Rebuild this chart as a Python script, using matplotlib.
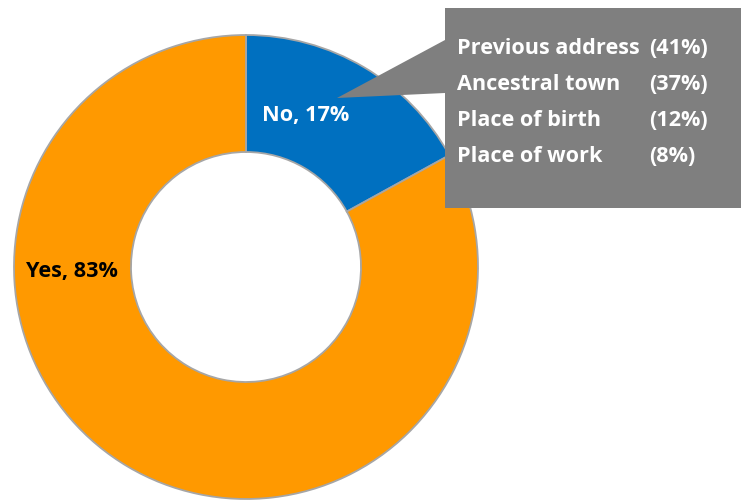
import matplotlib.pyplot as plt
from matplotlib.patches import Polygon

# Answer split for the donut
answers = ["No", "Yes"]
answer_share = [17, 83]
answer_colors = ["#0070C0", "#FF9900"]

# Breakdown shown in the callout box
reasons = ["Previous address", "Ancestral town", "Place of birth", "Place of work"]
reason_share = [41, 37, 12, 8]

plt.rcParams["font.family"] = ["Open Sans", "DejaVu Sans"]

W, H = 741, 501
fig = plt.figure(figsize=(W / 100, H / 100), dpi=100)
ax = fig.add_axes([0, 0, 1, 1])

cx, cy = 246, 234
outer = 232
ring = 117

ax.pie(answer_share, colors=answer_colors, startangle=90, counterclock=False,
       center=(cx, cy), radius=outer,
       wedgeprops=dict(width=ring, edgecolor="#A6A6A6", linewidth=1.3))

ax.set_xlim(0, W)
ax.set_ylim(0, H)
ax.set_aspect("equal")
ax.axis("off")

fs = 15.6

# donut labels
ax.text(306, 386, f"{answers[0]}, {answer_share[0]}%", color="white",
        fontsize=fs, fontweight="bold", ha="center", va="center", zorder=5)
ax.text(72, 230, f"{answers[1]}, {answer_share[1]}%", color="black",
        fontsize=fs, fontweight="bold", ha="center", va="center", zorder=5)

# callout box with pointer into the blue wedge
callout = Polygon([(445, 493), (741, 493), (741, 293), (445, 293),
                   (445, 408), (337, 403), (445, 461)],
                  closed=True, facecolor="#7F7F7F", edgecolor="none", zorder=4)
ax.add_patch(callout)

y0, step = 453, 36
for i, (name, pct) in enumerate(zip(reasons, reason_share)):
    y = y0 - i * step
    ax.text(457, y, name, color="white", fontsize=fs, fontweight="bold",
            ha="left", va="center", zorder=6)
    ax.text(649, y, f"({pct}%)", color="white", fontsize=fs, fontweight="bold",
            ha="left", va="center", zorder=6)

fig.savefig("out.png", dpi=100, facecolor="white")
